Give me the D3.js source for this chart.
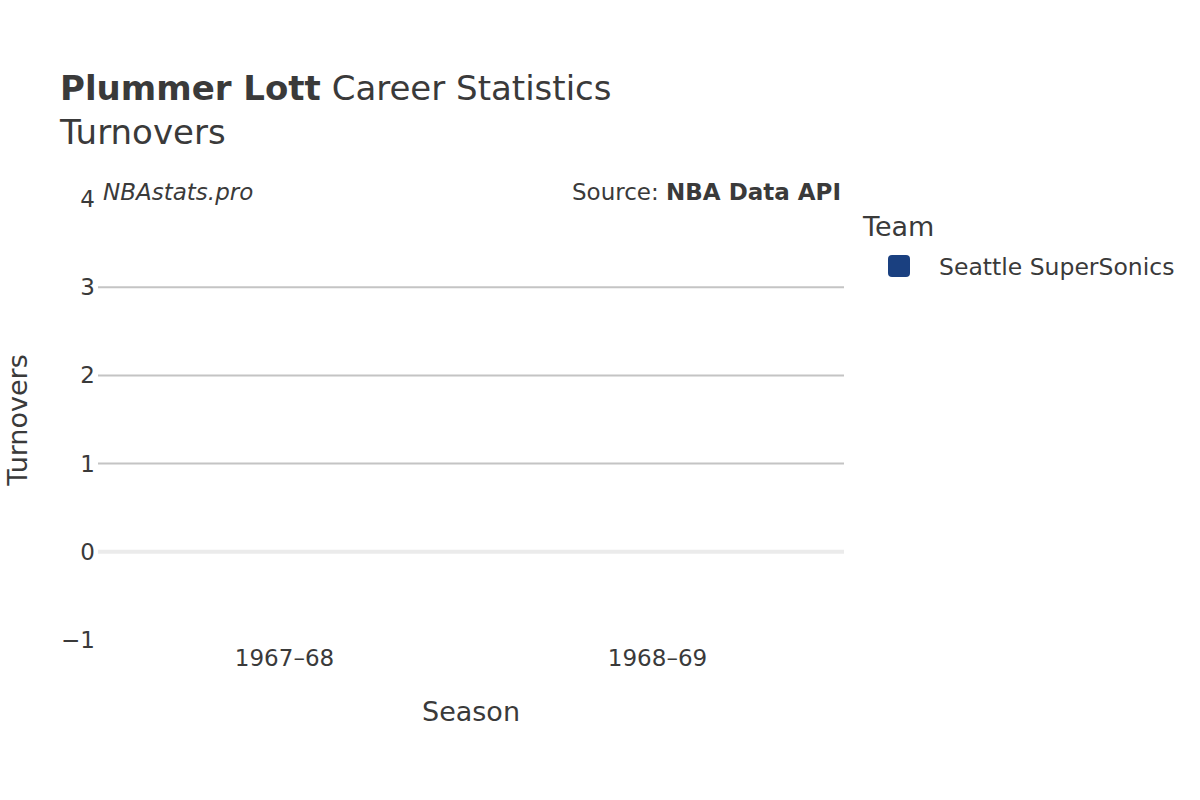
<!DOCTYPE html>
<html>
<head>
<meta charset="utf-8">
<script src="https://cdn.jsdelivr.net/npm/d3@7"></script>
<style>
  body { margin: 0; background: #fff; }
  text { font-family: "DejaVu Sans", sans-serif; fill: #3a3a3a; }
</style>
</head>
<body>
<div id="chart"></div>
<script>
// Data: seasons and turnovers (not recorded in these seasons)
const seasons = ['1967–68', '1968–69'];
const turnovers = [0, 0];
const yTicks = [-1, 0, 1, 2, 3, 4];
const teams = ['Seattle SuperSonics'];
const teamColors = ['#1a4080'];

const svg = d3.select('#chart').append('svg')
  .attr('width', 1200).attr('height', 800);

const x = d3.scaleBand().domain(seasons).range([98, 844]).padding(0);
const y = d3.scaleLinear().domain([-1, 4]).range([640, 199]);

// Grid
svg.append('g').selectAll('line')
  .data(yTicks.filter(d => d > 0 && d < 4))
  .enter().append('line')
  .attr('x1', 98).attr('x2', 844)
  .attr('y1', d => y(d)).attr('y2', d => y(d))
  .attr('stroke', '#c4c4c4').attr('stroke-width', 2);
svg.append('line')
  .attr('x1', 98).attr('x2', 844)
  .attr('y1', y(0)).attr('y2', y(0))
  .attr('stroke', '#ebebeb').attr('stroke-width', 4);

// Y tick labels
svg.append('g').selectAll('text')
  .data(yTicks).enter().append('text')
  .attr('x', 95).attr('y', d => y(d) + 8)
  .attr('text-anchor', 'end').style('font-size', '23px')
  .text(d => d < 0 ? '\u2212' + Math.abs(d) : d);

// X tick labels
svg.append('g').selectAll('text')
  .data(seasons).enter().append('text')
  .attr('x', d => x(d) + x.bandwidth() / 2).attr('y', 666)
  .attr('text-anchor', 'middle').style('font-size', '23px')
  .text(d => d);

// Bars (zero height)
svg.append('g').selectAll('rect')
  .data(turnovers).enter().append('rect')
  .attr('x', (d, i) => x(seasons[i]))
  .attr('y', d => y(Math.max(d, 0)))
  .attr('width', x.bandwidth())
  .attr('height', d => Math.abs(y(d) - y(0)))
  .attr('fill', teamColors[0]);

// Titles
const t = svg.append('text').attr('x', 60).attr('y', 100).style('font-size', '34px');
t.append('tspan').style('font-weight', 'bold').text('Plummer Lott');
t.append('tspan').text(' Career Statistics');
svg.append('text').attr('x', 60).attr('y', 144).style('font-size', '34px').text('Turnovers');

svg.append('text').attr('x', 471).attr('y', 721).attr('text-anchor', 'middle')
  .style('font-size', '27px').text('Season');
svg.append('text').attr('transform', 'translate(27,420) rotate(-90)')
  .attr('text-anchor', 'middle').style('font-size', '27px').text('Turnovers');

svg.append('text').attr('x', 103).attr('y', 200).style('font-size', '23px')
  .style('font-style', 'italic').text('NBAstats.pro');
const s = svg.append('text').attr('x', 841).attr('y', 200).attr('text-anchor', 'end')
  .style('font-size', '23px');
s.append('tspan').text('Source: ');
s.append('tspan').style('font-weight', 'bold').text('NBA Data API');

// Legend
svg.append('text').attr('x', 863).attr('y', 236).style('font-size', '27px').text('Team');
const lg = svg.append('g').selectAll('g').data(teams).enter().append('g');
lg.append('rect').attr('x', 888).attr('y', (d, i) => 255 + i * 30)
  .attr('width', 22).attr('height', 22).attr('rx', 4)
  .attr('fill', (d, i) => teamColors[i]);
lg.append('text').attr('x', 939).attr('y', (d, i) => 275 + i * 30)
  .style('font-size', '23.5px').text(d => d);
</script>
</body>
</html>
